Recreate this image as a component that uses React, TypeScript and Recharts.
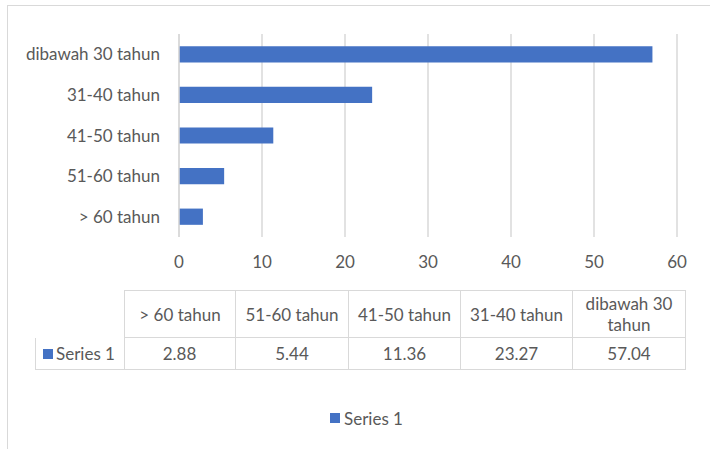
import { BarChart, Bar, XAxis, YAxis, CartesianGrid } from "recharts";

const categories = ["> 60 tahun", "51-60 tahun", "41-50 tahun", "31-40 tahun", "dibawah 30 tahun"];
const series1 = [2.88, 5.44, 11.36, 23.27, 57.04];
const xTicks = [0, 10, 20, 30, 40, 50, 60];
const seriesName = "Series 1";

const BLUE = "#4472C4";
const TEXT = "#595959";
const GRID = "#d9d9d9";
const FONT = "Lato, 'Open Sans', sans-serif";
const FS = 17;

const data = categories.map((c, i) => ({ name: c, value: series1[i] }));

const colLefts = [124, 236, 349, 461, 573, 686];

export default function App() {
  return (
    <div style={{ position: "absolute", left: 0, top: 0, width: 710, height: 449, background: "#fff", fontFamily: FONT, color: TEXT, overflow: "hidden" }}>
      <div style={{ position: "absolute", left: 7, top: 5, width: 720, height: 460, borderLeft: `1.5px solid ${GRID}`, borderTop: `1.5px solid ${GRID}` }} />
      <div style={{ position: "absolute", left: 0, top: 0 }}>
        <BarChart
          width={710}
          height={280}
          data={data}
          layout="vertical"
          barCategoryGap="70%"
          margin={{ top: 34, right: 33, bottom: 0, left: 0 }}
        >
          <CartesianGrid horizontal={false} stroke={GRID} strokeWidth={1.5} />
          <XAxis
            type="number"
            domain={[0, 60]}
            ticks={xTicks}
            height={43}
            axisLine={false}
            tickLine={false}
            tickMargin={13}
            tick={{ fill: TEXT, fontSize: FS, fontFamily: FONT }}
          />
          <YAxis
            type="category"
            dataKey="name"
            reversed
            width={179}
            axisLine={{ stroke: GRID, strokeWidth: 1.5 }}
            tickLine={false}
            tickMargin={13}
            tick={{ fill: TEXT, fontSize: FS, fontFamily: FONT }}
          />
          <Bar dataKey="value" fill={BLUE} isAnimationActive={false} />
        </BarChart>
      </div>
      <div style={{ position: "absolute", left: 35, top: 290 }}>
        {categories.map((c, i) => (
          <div
            key={c}
            style={{
              position: "absolute",
              left: colLefts[i] - 35,
              top: 0,
              width: colLefts[i + 1] - colLefts[i],
              height: 48,
              boxSizing: "border-box",
              borderTop: `1.5px solid ${GRID}`,
              borderRight: `1.5px solid ${GRID}`,
              borderBottom: `1.5px solid ${GRID}`,
              borderLeft: i === 0 ? `1.5px solid ${GRID}` : "none",
              display: "flex",
              alignItems: "center",
              justifyContent: "center",
              textAlign: "center",
              fontSize: FS,
              lineHeight: "21px",
              padding: "0 4px",
            }}
          >
            {c}
          </div>
        ))}
        <div
          style={{
            position: "absolute",
            left: 0,
            top: 48,
            width: colLefts[0] - 35 + 1,
            height: 32,
            boxSizing: "border-box",
            border: `1.5px solid ${GRID}`,
            borderTop: "none",
            display: "flex",
            alignItems: "center",
            fontSize: FS,
            whiteSpace: "nowrap",
          }}
        >
          <span style={{ display: "inline-block", width: 10, height: 10, background: BLUE, marginLeft: 7, marginRight: 3 }} />
          {seriesName}
        </div>
        {series1.map((v, i) => (
          <div
            key={i}
            style={{
              position: "absolute",
              left: colLefts[i] - 35,
              top: 48,
              width: colLefts[i + 1] - colLefts[i],
              height: 32,
              boxSizing: "border-box",
              borderRight: `1.5px solid ${GRID}`,
              borderBottom: `1.5px solid ${GRID}`,
              display: "flex",
              alignItems: "center",
              justifyContent: "center",
              fontSize: FS,
            }}
          >
            {v.toFixed(2)}
          </div>
        ))}
      </div>
      <div style={{ position: "absolute", left: 330, top: 407, display: "flex", alignItems: "center", fontSize: FS, height: 22 }}>
        <span style={{ display: "inline-block", width: 10, height: 10, background: BLUE, marginRight: 4 }} />
        {seriesName}
      </div>
    </div>
  );
}
